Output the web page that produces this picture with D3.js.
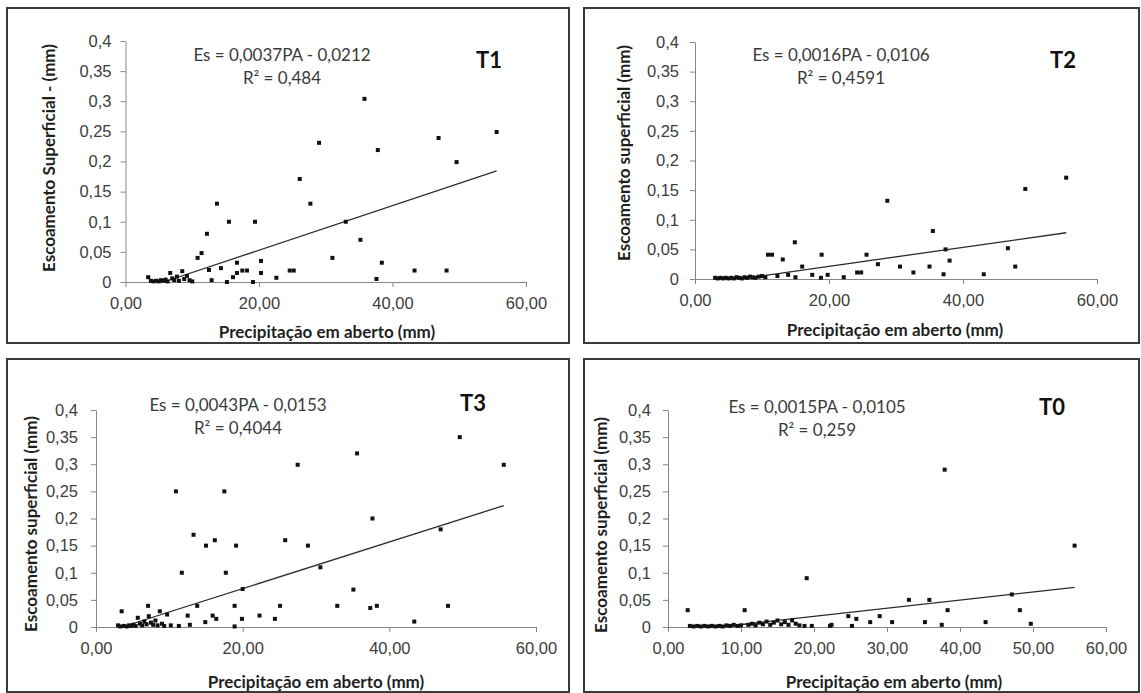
<!DOCTYPE html>
<html>
<head>
<meta charset="utf-8">
<script src="https://cdn.jsdelivr.net/npm/d3@7"></script>
<style>
  body { margin: 0; background: #fff; }
  svg { display: block; font-family: Lato, "Open Sans", sans-serif; }
  .tick text { fill: #3d3d3d; font-size: 16.5px; }
  .tick line, .domain { stroke: #868686; }
  .eq { fill: #3a3a3a; font-size: 17px; }
  .ax-title { fill: #1f1f1f; font-size: 17px; font-weight: bold; }
  .panel-name { fill: #111; font-size: 22px; font-weight: bold; }
</style>
</head>
<body>
<svg id="chart" width="1141" height="693"></svg>
<script>
// ---- data ----
// T1
var t1Precip = [3.4, 3.8, 4.2, 4.6, 5.0, 5.3, 5.7, 6.0, 6.3, 6.7, 7.0, 7.3, 7.7, 8.0, 8.5, 8.8, 9.2, 9.6, 10.0,
  10.8, 11.4, 12.2, 12.5, 12.9, 13.7, 14.3, 15.2, 15.5, 16.1, 16.7, 16.7, 17.5, 18.2, 19.1, 19.4, 20.3, 20.3,
  22.6, 24.6, 25.2, 26.1, 27.7, 29.0, 31.0, 33.0, 35.2, 35.8, 37.6, 37.8, 38.4, 43.3, 46.9, 48.1, 49.6, 55.6];
var t1Runoff = [0.008, 0.002, 0.001, 0.002, 0.001, 0.003, 0.002, 0.004, 0.001, 0.015, 0.006, 0.003, 0.009, 0.002, 0.018, 0.005, 0.010, 0.003, 0.001,
  0.040, 0.048, 0.080, 0.020, 0.003, 0.130, 0.023, 0.000, 0.100, 0.008, 0.032, 0.015, 0.019, 0.019, 0.000, 0.100, 0.035, 0.015,
  0.007, 0.019, 0.019, 0.171, 0.130, 0.231, 0.040, 0.100, 0.070, 0.304, 0.005, 0.219, 0.032, 0.019, 0.239, 0.019, 0.199, 0.249];
// T2
var t2Precip = [3.0, 3.4, 3.8, 4.2, 4.6, 5.0, 5.4, 5.8, 6.2, 6.6, 7.0, 7.4, 7.8, 8.2, 8.6, 9.0, 9.5, 10.0, 10.5,
  10.9, 11.5, 12.3, 13.1, 13.9, 14.9, 15.0, 16.0, 17.5, 18.8, 18.9, 19.8, 22.2, 24.2, 24.8, 25.6, 27.3, 28.7,
  30.6, 32.6, 35.0, 35.5, 37.1, 37.4, 38.0, 43.1, 46.7, 47.8, 49.3, 55.4];
var t2Runoff = [0.002, 0.001, 0.002, 0.001, 0.002, 0.001, 0.002, 0.001, 0.003, 0.002, 0.001, 0.003, 0.002, 0.004, 0.003, 0.002, 0.004, 0.005, 0.003,
  0.041, 0.041, 0.005, 0.033, 0.007, 0.062, 0.003, 0.021, 0.007, 0.002, 0.041, 0.007, 0.003, 0.011, 0.011, 0.041, 0.025, 0.132,
  0.021, 0.011, 0.021, 0.081, 0.008, 0.050, 0.031, 0.008, 0.052, 0.021, 0.152, 0.171];
// T3
var t3Precip = [3.0, 3.3, 3.5, 3.8, 4.2, 4.5, 4.8, 5.1, 5.4, 5.7, 6.0, 6.3, 6.6, 6.9, 7.1, 7.2, 7.5, 7.8, 8.1, 8.4,
  8.7, 9.0, 9.3, 9.7, 10.2, 10.9, 11.3, 11.7, 12.5, 12.8, 13.3, 13.8, 14.9, 15.0, 15.9, 16.2, 16.4, 17.5, 17.7,
  18.9, 18.9, 19.1, 19.9, 20.0, 22.3, 24.4, 25.1, 25.8, 27.5, 28.9, 30.6, 32.9, 35.1, 35.6, 37.4, 37.7, 38.3,
  43.4, 47.0, 48.0, 49.6, 55.6];
var t3Runoff = [0.003, 0.001, 0.029, 0.002, 0.001, 0.003, 0.002, 0.004, 0.002, 0.017, 0.006, 0.003, 0.010, 0.005, 0.039, 0.020, 0.008, 0.004, 0.012, 0.003,
  0.029, 0.006, 0.002, 0.023, 0.003, 0.250, 0.002, 0.100, 0.021, 0.004, 0.170, 0.039, 0.009, 0.150, 0.021, 0.160, 0.015, 0.250, 0.100,
  0.039, 0.001, 0.150, 0.015, 0.070, 0.021, 0.015, 0.039, 0.160, 0.299, 0.150, 0.110, 0.039, 0.069, 0.320, 0.035, 0.200, 0.039,
  0.010, 0.180, 0.039, 0.350, 0.299];
// T0
var t0Precip = [2.7, 3.0, 3.5, 4.0, 4.5, 5.0, 5.5, 6.0, 6.5, 7.0, 7.5, 8.0, 8.5, 9.0, 9.5, 10.0, 10.5, 11.0, 11.5,
  12.0, 12.5, 13.0, 13.5, 14.0, 14.5, 15.0, 15.5, 16.0, 16.5, 17.0, 17.5, 18.0, 18.7, 19.0, 19.7, 22.2, 22.4,
  24.7, 25.2, 25.8, 27.7, 29.0, 30.7, 33.0, 35.2, 35.8, 37.5, 37.9, 38.3, 43.5, 47.1, 48.2, 49.7, 55.7];
var t0Runoff = [0.031, 0.002, 0.001, 0.002, 0.001, 0.002, 0.001, 0.002, 0.001, 0.002, 0.001, 0.003, 0.002, 0.004, 0.002, 0.003, 0.031, 0.004, 0.006,
  0.003, 0.008, 0.005, 0.010, 0.004, 0.008, 0.012, 0.005, 0.009, 0.004, 0.012, 0.006, 0.003, 0.002, 0.090, 0.002, 0.002, 0.004,
  0.020, 0.002, 0.015, 0.009, 0.020, 0.009, 0.050, 0.009, 0.050, 0.004, 0.290, 0.031, 0.009, 0.060, 0.031, 0.006, 0.150];

// regression coefficients (Es = a*PA + b) and labels
var panelNames = ["T1", "T2", "T3", "T0"];
var slopes = [0.0037, 0.0016, 0.0043, 0.0015];
var intercepts = [-0.0212, -0.0106, -0.0153, -0.0105];
var equations = ["Es = 0,0037PA - 0,0212", "Es = 0,0016PA - 0,0106", "Es = 0,0043PA - 0,0153", "Es = 0,0015PA - 0,0105"];
var r2Labels = ["R\u00b2 = 0,484", "R\u00b2 = 0,4591", "R\u00b2 = 0,4044", "R\u00b2 = 0,259"];
var yTitles = ["Escoamento Superficial - (mm)", "Escoamento superficial  (mm)", "Escoamento superficial (mm)", "Escoamento superficial   (mm)"];
var xTitles = ["Precipita\u00e7\u00e3o em aberto (mm)", "Precipita\u00e7\u00e3o em aberto  (mm)", "Precipita\u00e7\u00e3o em aberto (mm)", "Precipita\u00e7\u00e3o em aberto (mm)"];

// ticks
var yTicks = [0, 0.05, 0.1, 0.15, 0.2, 0.25, 0.3, 0.35, 0.4];
var yTickLabels = ["0", "0,05", "0,1", "0,15", "0,2", "0,25", "0,3", "0,35", "0,4"];
var xTicksWide = [0, 20, 40, 60];
var xTicksFine = [0, 10, 20, 30, 40, 50, 60];

var precip = [t1Precip, t2Precip, t3Precip, t0Precip];
var runoff = [t1Runoff, t2Runoff, t3Runoff, t0Runoff];

// layout of each panel: frame box, plot box (x0, x60, y0, y0.4),
// y label padding, centres of the texts
var layout = [
  { frame: [7, 8, 562, 335], plot: [125.5, 526, 282, 41], xt: xTicksWide, ypad: 9,
    eq: [282, 55], name: [489, 60], yt: [49, 158], xtl: [327, 338] },
  { frame: [584, 8, 555, 335], plot: [695, 1097, 279, 42], xt: xTicksWide, ypad: 11,
    eq: [841, 55], name: [1063, 60], yt: [624, 153], xtl: [895, 336] },
  { frame: [7, 359, 562, 333], plot: [96, 536, 627, 410], xt: xTicksWide, ypad: 13,
    eq: [238, 405], name: [473, 403], yt: [31, 524], xtl: [316, 688] },
  { frame: [584, 359, 555, 333], plot: [668, 1106, 627, 410], xt: xTicksFine, ypad: 12,
    eq: [817, 407], name: [1052, 407], yt: [601, 525], xtl: [894, 688] }
];

var svg = d3.select("#chart");
var fmtX = d3.formatLocale({ decimal: ",", thousands: ".", grouping: [3], currency: ["", ""] }).format(".2f");

layout.forEach(function(L, k) {
  var g = svg.append("g");

  // outer frame
  g.append("rect")
    .attr("x", L.frame[0]).attr("y", L.frame[1])
    .attr("width", L.frame[2]).attr("height", L.frame[3])
    .attr("fill", "#fff").attr("stroke", "#3a3a3a").attr("stroke-width", 2);

  var x = d3.scaleLinear().domain([0, 60]).range([L.plot[0], L.plot[1]]);
  var y = d3.scaleLinear().domain([0, 0.4]).range([L.plot[2], L.plot[3]]);

  // axes
  g.append("g")
    .attr("transform", "translate(" + L.plot[0] + ",0)")
    .call(d3.axisLeft(y).tickValues(yTicks).tickSize(5).tickSizeOuter(0).tickPadding(L.ypad)
      .tickFormat(function(d, i) { return yTickLabels[i]; }));

  g.append("g")
    .attr("transform", "translate(0," + L.plot[2] + ")")
    .call(d3.axisBottom(x).tickValues(L.xt).tickSize(5).tickSizeOuter(0).tickPadding(10)
      .tickFormat(fmtX));

  // trend line, from where it crosses zero to the last observation
  var a = slopes[k], b = intercepts[k];
  var xs = precip[k];
  var xStart = Math.max(d3.min(xs), -b / a), xEnd = d3.max(xs);
  g.append("line")
    .attr("x1", x(xStart)).attr("y1", y(a * xStart + b))
    .attr("x2", x(xEnd)).attr("y2", y(a * xEnd + b))
    .attr("stroke", "#2b2b2b").attr("stroke-width", 1.3);

  // observations
  g.append("g").selectAll("rect")
    .data(d3.zip(precip[k], runoff[k]))
    .enter()
    .append("rect")
      .attr("x", function(d) { return x(d[0]) - 2; })
      .attr("y", function(d) { return y(d[1]) - 2; })
      .attr("width", 4).attr("height", 4)
      .attr("fill", "#111");

  // equation + r2
  g.append("text").attr("class", "eq")
    .attr("x", L.eq[0]).attr("y", L.eq[1] + 6)
    .attr("text-anchor", "middle").text(equations[k]);
  g.append("text").attr("class", "eq")
    .attr("x", L.eq[0]).attr("y", L.eq[1] + 29)
    .attr("text-anchor", "middle").text(r2Labels[k]);

  // panel name
  g.append("text").attr("class", "panel-name")
    .attr("x", L.name[0]).attr("y", L.name[1] + 8)
    .attr("text-anchor", "middle").text(panelNames[k]);

  // axis titles
  g.append("text").attr("class", "ax-title")
    .attr("transform", "translate(" + (L.yt[0] + 6) + "," + L.yt[1] + ") rotate(-90)")
    .attr("text-anchor", "middle").text(yTitles[k]);
  g.append("text").attr("class", "ax-title")
    .attr("x", L.xtl[0]).attr("y", L.xtl[1])
    .attr("text-anchor", "middle").text(xTitles[k]);
});
</script>
</body>
</html>
